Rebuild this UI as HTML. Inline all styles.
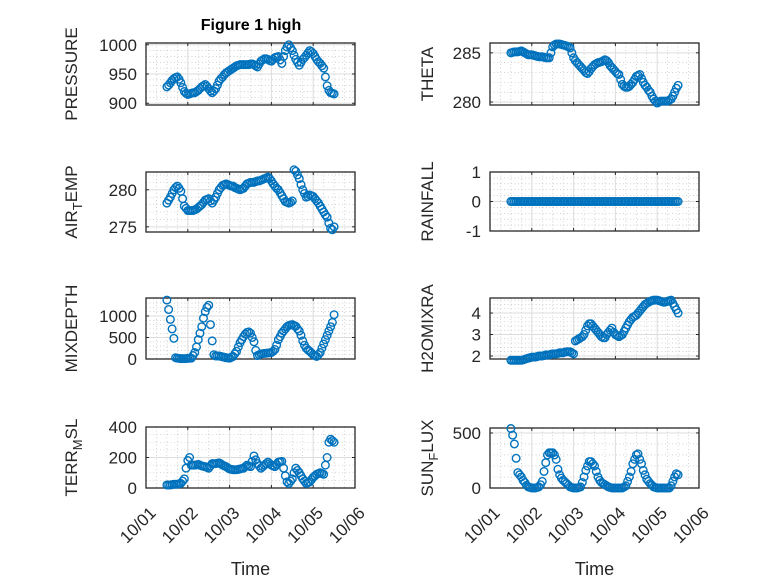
<!DOCTYPE html>
<html><head><meta charset="utf-8"><style>
html,body{margin:0;padding:0;background:#fff}
svg text{font-family:"Liberation Sans",sans-serif;fill:#262626}
</style></head><body>
<svg id="fig" width="778" height="583" viewBox="0 0 778 583" xmlns="http://www.w3.org/2000/svg">
<text x="251" y="30" font-size="16" font-weight="bold" text-anchor="middle" style="fill:#000">Figure 1 high</text>
</svg>
<script>
const hours=[12,13,14,15,16,17,18,19,20,21,22,23,24,25,26,27,28,29,30,31,32,33,34,35,36,37,38,39,40,41,42,43,44,45,46,47,48,49,50,51,52,53,54,55,56,57,58,59,60,61,62,63,64,65,66,67,68,69,70,71,72,73,74,75,76,77,78,79,80,81,82,83,84,85,86,87,88,89,90,91,92,93,94,95,96,97,98,99,100,101,102,103,104,105,106,107,108];
const dateTicks=["10/01","10/02","10/03","10/04","10/05","10/06"];
const pressure=[928,931,935,939,942,944,945,941,935,927,920,917,915,916,917,918,918,920,922,925,928,930,932,929,925,921,918,921,925,931,938,942,945,949,952,954,956,958,960,962,964,965,966,966,966,966,966,966,967,967,966,964,962,967,972,974,976,976,975,973,972,975,978,979,980,974,968,980,990,996,1000,995,990,982,975,970,965,970,975,978,982,986,990,988,985,980,975,971,968,964,960,945,930,922,918,917,916];
const theta=[285,285.05,285.1,285.1,285.1,285.15,285.2,285.1,285,284.9,284.8,284.8,284.8,284.75,284.7,284.65,284.6,284.6,284.6,284.55,284.5,284.5,284.5,285,285.6,285.8,285.9,285.9,285.9,285.85,285.8,285.75,285.7,285.6,285.5,285,284.5,284.2,284,283.8,283.6,283.4,283.2,283,282.9,283.1,283.4,283.6,283.8,283.9,284,284.05,284.1,284.2,284.3,284.2,284,283.7,283.5,283.3,283.1,282.9,282.8,282.3,281.8,281.6,281.5,281.5,281.6,281.8,282,282.3,282.6,282.7,282.8,282.4,282,281.7,281.5,281.2,281,280.6,280.3,280.1,279.9,280,280.1,280.1,280.1,280.1,280.1,280.2,280.3,280.6,281,281.4,281.7];
const airTemp=[278.2,278.6,279,279.5,280,280.3,280.5,280.2,279.8,278.8,277.8,277.5,277.2,277.2,277.2,277.2,277.3,277.4,277.6,277.8,278,278.3,278.6,278.7,278.8,278.5,278.2,278.6,279,279.5,280,280.3,280.6,280.7,280.8,280.7,280.6,280.5,280.5,280.3,280.2,280.1,280,280.1,280.2,280.5,280.8,280.9,281,281,281,281.1,281.2,281.2,281.3,281.4,281.5,281.6,281.7,281.5,281.2,280.8,280.5,280.2,280,279.6,279.2,278.8,278.4,278.3,278.2,278.3,278.5,282.7,282.5,282,281.5,280.7,280,279.5,279,279.1,279.3,279.2,279.1,278.8,278.5,278.2,277.8,277.4,277,276.6,276.3,275.5,274.8,274.6,275];
const rainfall=[0,0,0,0,0,0,0,0,0,0,0,0,0,0,0,0,0,0,0,0,0,0,0,0,0,0,0,0,0,0,0,0,0,0,0,0,0,0,0,0,0,0,0,0,0,0,0,0,0,0,0,0,0,0,0,0,0,0,0,0,0,0,0,0,0,0,0,0,0,0,0,0,0,0,0,0,0,0,0,0,0,0,0,0,0,0,0,0,0,0,0,0,0,0,0,0,0];
const mixDepth=[1370,1150,920,700,480,30,20,15,10,10,10,10,15,18,20,80,150,280,450,600,750,950,1100,1200,1250,800,420,100,70,70,70,60,50,40,30,25,20,40,60,120,180,280,380,450,520,580,620,630,600,500,400,200,80,100,120,125,130,135,140,145,150,180,220,320,450,520,600,650,700,750,780,790,800,780,760,700,650,550,420,320,250,210,180,140,100,80,60,100,150,250,350,450,550,650,750,850,1030];
const h2oMix=[1.8,1.8,1.8,1.8,1.8,1.8,1.8,1.82,1.85,1.88,1.9,1.92,1.95,1.95,1.95,1.97,2,2,2,2.02,2.05,2.05,2.05,2.08,2.1,2.1,2.1,2.12,2.15,2.15,2.15,2.18,2.2,2.2,2.2,2.15,2.1,2.7,2.75,2.8,2.85,2.9,3,3.2,3.4,3.5,3.5,3.4,3.3,3.2,3.1,3,2.9,2.85,2.85,3,3.1,3.2,3.3,3.1,3.0,2.95,2.9,2.95,3.0,3.15,3.3,3.45,3.6,3.7,3.8,3.85,3.9,4,4.1,4.2,4.3,4.4,4.45,4.5,4.55,4.58,4.6,4.6,4.6,4.58,4.55,4.52,4.5,4.52,4.55,4.58,4.6,4.45,4.3,4.15,4.0];
const terrMsl=[20,20,20,22,25,25,25,28,30,45,60,130,180,200,150,150,150,152,155,150,145,142,140,135,130,145,160,160,160,162,165,158,150,145,140,132,125,122,120,120,120,122,125,128,130,140,150,145,140,175,210,185,160,145,130,140,150,160,170,160,150,145,140,155,170,172,175,130,80,40,30,45,60,100,130,115,100,80,60,45,30,35,40,55,70,80,90,95,100,95,90,150,200,300,320,310,300];
const sunFlux=[540,480,400,270,140,120,100,70,50,25,10,5,0,0,0,5,10,30,60,150,230,300,320,320,320,300,260,170,120,90,70,55,40,25,10,5,0,0,0,5,10,50,100,160,200,240,240,220,200,150,100,70,50,40,30,20,10,5,0,0,0,0,0,0,0,10,20,60,100,150,220,260,300,310,260,220,160,120,80,60,40,25,10,5,0,0,0,0,0,0,0,0,20,60,100,130,120];

const NS="http://www.w3.org/2000/svg";
const svg=document.getElementById('fig');
function mk(tag,attrs,parent){const e=document.createElementNS(NS,tag);for(const k in attrs)e.setAttribute(k,attrs[k]);(parent||svg).appendChild(e);return e;}

const panels=[
 {key:'pressure',data:pressure,x0:146,x1:355,y0:43,y1:105,ymin:897,ymax:1003,ticks:[900,950,1000],minor:10,label:['PRESSURE'],xlab:false},
 {key:'theta',data:theta,x0:490,x1:699,y0:43,y1:105,ymin:279.7,ymax:286,ticks:[280,285],minor:1,label:['THETA'],xlab:false},
 {key:'air-temp',data:airTemp,x0:146,x1:355,y0:172,y1:232,ymin:274.3,ymax:282.4,ticks:[275,280],minor:1,label:['AIR','T','EMP'],xlab:false},
 {key:'rainfall',data:rainfall,x0:490,x1:699,y0:172,y1:231,ymin:-1,ymax:1,ticks:[-1,0,1],minor:0.2,label:['RAINFALL'],xlab:false},
 {key:'mixdepth',data:mixDepth,x0:146,x1:355,y0:298,y1:359,ymin:0,ymax:1418,ticks:[0,500,1000],minor:100,label:['MIXDEPTH'],xlab:false},
 {key:'h2omixra',data:h2oMix,x0:490,x1:699,y0:298,y1:359,ymin:1.86,ymax:4.7,ticks:[2,3,4],minor:0.2,label:['H2OMIXRA'],xlab:false},
 {key:'terr-msl',data:terrMsl,x0:146,x1:355,y0:427,y1:488,ymin:0,ymax:400,ticks:[0,200,400],minor:50,label:['TERR','M','SL'],xlab:true},
 {key:'sun-flux',data:sunFlux,x0:490,x1:699,y0:428,y1:488,ymin:0,ymax:545,ticks:[0,500],minor:100,label:['SUN','F','LUX'],xlab:true}
];

panels.forEach(p=>{
 const g=mk('g',{});
 
 
 const xs=h=>p.x0+(h/120)*(p.x1-p.x0);
 const ys=v=>p.y1-(v-p.ymin)/(p.ymax-p.ymin)*(p.y1-p.y0);
 for(let h=6;h<120;h+=6){if(h%24===0)continue;mk('line',{x1:xs(h),x2:xs(h),y1:p.y0,y2:p.y1,stroke:'#b8b8b8','stroke-width':0.6,'stroke-dasharray':'1 2.5'},g);}
 const mstart=Math.ceil(p.ymin/p.minor)*p.minor;
 for(let v=mstart;v<=p.ymax+1e-9;v+=p.minor){if(p.ticks.some(t=>Math.abs(t-v)<1e-6))continue;mk('line',{x1:p.x0,x2:p.x1,y1:ys(v),y2:ys(v),stroke:'#b8b8b8','stroke-width':0.6,'stroke-dasharray':'1 2.5'},g);}
 for(let d=1;d<5;d++)mk('line',{x1:xs(d*24),x2:xs(d*24),y1:p.y0,y2:p.y1,stroke:'#dcdcdc','stroke-width':1},g);
 p.ticks.forEach(t=>{const y=ys(t);mk('line',{x1:p.x0,x2:p.x1,y1:y,y2:y,stroke:'#dcdcdc','stroke-width':1},g);
  mk('line',{x1:p.x0,x2:p.x0+3,y1:y,y2:y,stroke:'#262626'},g);mk('line',{x1:p.x1,x2:p.x1-3,y1:y,y2:y,stroke:'#262626'},g);
  const tx=mk('text',{x:p.x0-9,y:y+6,'font-size':17,'text-anchor':'end'},g);tx.textContent=String(t);
  
  });
 for(let d=0;d<=5;d++){const x=xs(d*24);mk('line',{x1:x,x2:x,y1:p.y1,y2:p.y1-3,stroke:'#262626'},g);mk('line',{x1:x,x2:x,y1:p.y0,y2:p.y0+3,stroke:'#262626'},g);
  if(p.xlab){const ax=x+11, ay=p.y1+26;const tx=mk('text',{x:ax,y:ay,'font-size':17,'text-anchor':'end',transform:`rotate(-45 ${ax} ${ay})`},g);tx.textContent=dateTicks[d];
   
   }}
 mk('rect',{x:p.x0,y:p.y0,width:p.x1-p.x0,height:p.y1-p.y0,fill:'none',stroke:'#262626','stroke-width':1.3},g);
 p.data.forEach((v,i)=>{if(i>=hours.length)return;const c=mk('circle',{cx:xs(hours[i]),cy:ys(v),r:3.8,fill:'none',stroke:'#0072bd','stroke-width':1.4},g);
  
  });
 const lx=p.x0-(p.x0<300?69:57), ly=(p.y0+p.y1)/2;
 const lt=mk('text',{x:lx,y:ly,'font-size':17,'text-anchor':'middle',transform:`rotate(-90 ${lx} ${ly})`},g);
 
 
 if(p.label.length===1)lt.textContent=p.label[0];
 else{const a=mk('tspan',{},lt);a.textContent=p.label[0];const b=mk('tspan',{dy:5,'font-size':13},lt);b.textContent=p.label[1];const c=mk('tspan',{dy:-5},lt);c.textContent=p.label[2];}
 if(p.xlab){const t=mk('text',{x:(p.x0+p.x1)/2,y:575,'font-size':18,'text-anchor':'middle'},g);t.textContent='Time';
  
  }
});
</script>
</body></html>
